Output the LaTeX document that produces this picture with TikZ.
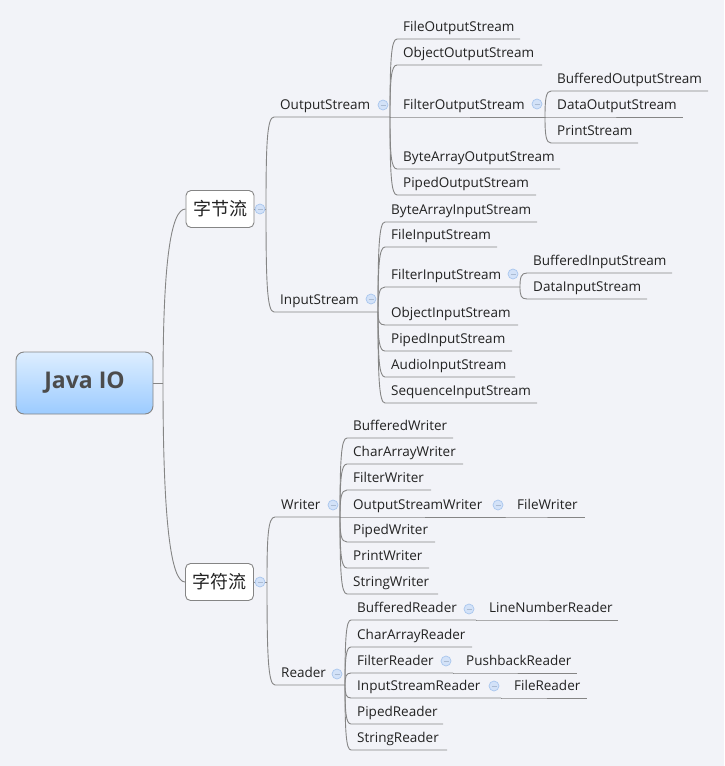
\documentclass[tikz,border=0pt]{standalone}
\usepackage{fontspec}
\setmainfont{Open Sans}
\newfontfamily\cjk{Noto Sans CJK SC}
\usetikzlibrary{calc}
\definecolor{bg}{HTML}{F2F3F8}
\definecolor{lnc}{HTML}{858585}
\definecolor{txt}{HTML}{222222}
\definecolor{mkf}{HTML}{D3E2F8}
\definecolor{mkb}{HTML}{A9C6EE}
\definecolor{rtop}{HTML}{DDEEFF}
\definecolor{rbot}{HTML}{9CCBFF}
\tikzset{
  ln/.style={draw=lnc, line width=0.9pt},
  lbl/.style={inner sep=0pt, text=txt, font=\fontsize{13.5}{16}\selectfont},
  box/.style={draw=lnc, line width=0.9pt, fill=white, rounded corners=5pt, minimum width=68pt, minimum height=37pt, inner sep=0pt, text=txt, font=\cjk\fontsize{18}{20}\selectfont},
  rootbox/.style={draw=lnc, line width=0.9pt, rounded corners=8pt, top color=rtop, bottom color=rbot, minimum width=137pt, minimum height=62pt, inner sep=0pt, text=black!70, font=\bfseries\fontsize{23}{26}\selectfont},
  mkr/.style={circle, minimum size=10pt, inner sep=0pt, draw=mkb, line width=0.7pt, fill=mkf,
    path picture={\draw[mkb!80!black!70, line width=0.7pt] ($(path picture bounding box.center)+(-2.5,0)$) -- ++(5,0);}}
}
\newcommand\xleaf[6]{%
  \coordinate (#1-a) at (#3,#4);
  \coordinate (#1-b) at (#5,#4);
  \draw[ln] (#2) .. controls ($(#2)!0.7!(#2|-#1-a)$) and ($(#2|-#1-a)+(1,0)$) .. (#1-a) -- (#1-b);
  \node[lbl, anchor=base west] (#1) at ($(#1-a)+(6,-7.5)$) {#6};
}
\begin{document}
\begin{tikzpicture}[x=1pt,y=-1pt]
\useasboundingbox[fill=bg] (0,0) rectangle (724,766);
% root and first level
\node[rootbox] (root) at (84.5,383) {Java IO};
\node[box] (b1) at (220,209) {字节流};
\node[box] (b2) at (219.5,582) {字符流};
\coordinate (r-sp) at (163,383);
\draw[ln] (root.east) -- (r-sp);
\draw[ln] (r-sp) .. controls ($(r-sp)!0.7!(r-sp|-b1.west)$) and ($(r-sp|-b1.west)+(8,0)$) .. (b1.west);
\draw[ln] (r-sp) .. controls ($(r-sp)!0.7!(r-sp|-b2.west)$) and ($(r-sp|-b2.west)+(8,0)$) .. (b2.west);
\coordinate (b1-sp) at (266,209);
\coordinate (b2-sp) at (267,582);
\draw[ln] (b1.east) -- (b1-sp);
\draw[ln] (b2.east) -- (b2-sp);
% byte streams
\xleaf{os}{b1-sp}{274}{117}{390}{OutputStream}
\xleaf{is}{b1-sp}{274}{312}{378}{InputStream}
% OutputStream children
\xleaf{fos}{os-b}{397}{39}{520}{FileOutputStream}
\xleaf{oos}{os-b}{397}{65}{542}{ObjectOutputStream}
\xleaf{filos}{os-b}{397}{117}{545}{FilterOutputStream}
\xleaf{baos}{os-b}{397}{169}{560}{ByteArrayOutputStream}
\xleaf{pos}{os-b}{397}{195}{536}{PipedOutputStream}
\xleaf{bos}{filos-b}{551}{91}{708}{BufferedOutputStream}
\xleaf{dos}{filos-b}{551}{117}{683}{DataOutputStream}
\xleaf{ps}{filos-b}{551}{143}{638}{PrintStream}
% InputStream children
\xleaf{bais}{is-b}{385}{222}{537}{ByteArrayInputStream}
\xleaf{fis}{is-b}{385}{247}{497}{FileInputStream}
\xleaf{filis}{is-b}{385}{287}{520}{FilterInputStream}
\xleaf{ois}{is-b}{385}{325}{518}{ObjectInputStream}
\xleaf{pis}{is-b}{385}{351}{512}{PipedInputStream}
\xleaf{ais}{is-b}{385}{377}{515}{AudioInputStream}
\xleaf{sis}{is-b}{385}{403}{537}{SequenceInputStream}
\xleaf{bis}{filis-b}{527}{273}{672}{BufferedInputStream}
\xleaf{dis}{filis-b}{527}{299}{647}{DataInputStream}
% char streams
\xleaf{wr}{b2-sp}{275}{517}{340}{Writer}
\xleaf{rd}{b2-sp}{275}{685}{345}{Reader}
% Writer children
\xleaf{bw}{wr-b}{347}{438}{453}{BufferedWriter}
\xleaf{caw}{wr-b}{347}{464}{463}{CharArrayWriter}
\xleaf{fw}{wr-b}{347}{490}{431}{FilterWriter}
\xleaf{osw}{wr-b}{347}{517}{505}{OutputStreamWriter}
\xleaf{pw}{wr-b}{347}{542}{435}{PipedWriter}
\xleaf{prw}{wr-b}{347}{568}{429}{PrintWriter}
\xleaf{sw}{wr-b}{347}{594}{438}{StringWriter}
\xleaf{filw}{osw-b}{511}{517}{585}{FileWriter}
% Reader children
\xleaf{br}{rd-b}{351}{620}{476}{BufferedReader}
\xleaf{car}{rd-b}{351}{647}{472}{CharArrayReader}
\xleaf{fr}{rd-b}{351}{673}{453}{FilterReader}
\xleaf{isr}{rd-b}{351}{698}{501}{InputStreamReader}
\xleaf{pr}{rd-b}{351}{724}{443}{PipedReader}
\xleaf{sr}{rd-b}{351}{750}{447}{StringReader}
\xleaf{lnr}{br-b}{483}{620}{618}{LineNumberReader}
\xleaf{pbr}{fr-b}{460}{673}{577}{PushbackReader}
\xleaf{filr}{isr-b}{508}{698}{587}{FileReader}
% collapse markers
\node[mkr] (m-b1) at (260,209) {};
\node[mkr] (m-b2) at (260,582) {};
\node[mkr] (m-os) at (383,105) {};
\node[mkr] (m-is) at (371,299) {};
\node[mkr] (m-filos) at (537,104) {};
\node[mkr] (m-filis) at (513,274) {};
\node[mkr] (m-wr) at (333,505) {};
\node[mkr] (m-rd) at (337,674) {};
\node[mkr] (m-osw) at (498,505) {};
\node[mkr] (m-br) at (469,609) {};
\node[mkr] (m-fr) at (446,661) {};
\node[mkr] (m-isr) at (494,686) {};
\end{tikzpicture}
\end{document}
